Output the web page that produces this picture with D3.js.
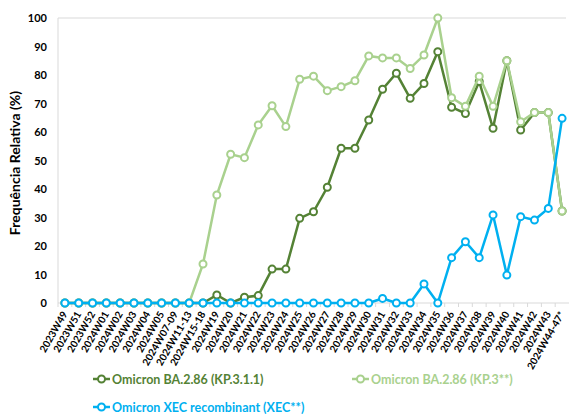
<!DOCTYPE html>
<html>
<head>
<meta charset="utf-8">
<script src="https://cdn.jsdelivr.net/npm/d3@7"></script>
<style>
body { margin: 0; background: #fff; }
text { font-family: Lato, "Liberation Sans", sans-serif; }
</style>
</head>
<body>
<div class="canva"></div>
<script>
// semanas
const semanas = ['2023W49','2023W51','2023W52','2024W01','2024W02','2024W03','2024W04','2024W05',
  '2024W07-09','2024W11-13','2024W15-18','2024W19','2024W20','2024W21','2024W22','2024W23','2024W24',
  '2024W25','2024W26','2024W27','2024W28','2024W29','2024W30','2024W31','2024W32','2024W33','2024W34',
  '2024W35','2024W36','2024W37','2024W38','2024W39','2024W40','2024W41','2024W42','2024W43','2024W44-47*'];

const kp311 = [0,0,0,0,0,0,0,0,0,0,0,2.8,0,2,2.6,11.9,11.9,29.7,32,40.6,54.3,54.3,64.2,75,80.6,71.8,77,88.2,68.7,66.5,77.7,61.3,85,60.7,66.8,66.8,32.3];
const kp3 = [0,0,0,0,0,0,0,0,0,0,13.7,37.9,52.2,51,62.5,69.2,61.9,78.5,79.6,74.5,75.9,78,86.7,86,86,82.3,87,100,72,69,79.6,69,85,63.6,66.8,66.8,32.3];
const xec = [0,0,0,0,0,0,0,0,0,0,0,0,0,0,0,0,0,0,0,0,0,0,0,1.6,0,0,6.7,0,15.9,21.5,15.9,30.9,9.8,30.3,29.1,33.2,64.8];

const yTicks = [0,10,20,30,40,50,60,70,80,90,100];

const series = [
  {name: 'Omicron BA.2.86 (KP.3.1.1)', values: kp311, color: '#548235'},
  {name: 'Omicron BA.2.86 (KP.3**)', values: kp3, color: '#A9D18E'},
  {name: 'Omicron XEC recombinant (XEC**)', values: xec, color: '#00B0F0'}
];

const W = 569, H = 414;
const svg = d3.select('.canva').append('svg')
  .attr('width', W)
  .attr('height', H);

const x = d3.scaleBand().domain(semanas).range([58, 569]);
const y = d3.scaleLinear().domain([0, 100]).range([303, 18]);

// gridline oben
svg.append('line')
  .attr('x1', 58).attr('x2', 566)
  .attr('y1', y(100)).attr('y2', y(100))
  .attr('stroke', '#d9d9d9').attr('stroke-width', 1);

// y achse
svg.append('line')
  .attr('x1', 58).attr('x2', 58)
  .attr('y1', y(100)).attr('y2', y(0))
  .attr('stroke', '#d9d9d9');

svg.selectAll('text.ytick')
  .data(yTicks)
  .enter()
  .append('text')
  .attr('class', 'ytick')
  .attr('x', 47)
  .attr('y', d => y(d) + 4)
  .attr('text-anchor', 'end')
  .attr('font-size', 11)
  .attr('font-weight', 'bold')
  .attr('fill', '#000')
  .text(d => d);

svg.append('text')
  .attr('transform', 'translate(20,163) rotate(-90)')
  .attr('text-anchor', 'middle')
  .attr('font-size', 14)
  .attr('font-weight', 'bold')
  .text('Frequência Relativa (%)');

// x achse
svg.append('line')
  .attr('x1', 58).attr('x2', 569)
  .attr('y1', y(0)).attr('y2', y(0))
  .attr('stroke', '#d9d9d9');

svg.selectAll('line.xtick')
  .data(semanas)
  .enter()
  .append('line')
  .attr('class', 'xtick')
  .attr('x1', d => x(d)).attr('x2', d => x(d))
  .attr('y1', y(0)).attr('y2', y(0) + 4)
  .attr('stroke', '#d9d9d9');

svg.selectAll('text.xlab')
  .data(semanas)
  .enter()
  .append('text')
  .attr('class', 'xlab')
  .attr('transform', d => 'translate(' + (x(d) + x.bandwidth() / 2 + 3) + ',' + (y(0) + 11) + ') rotate(-60)')
  .attr('text-anchor', 'end')
  .attr('font-size', 10)
  .attr('font-weight', 'bold')
  .text(d => d);

const cx = d => x(d) + x.bandwidth() / 2;
const line = d3.line()
  .x((d, i) => cx(semanas[i]))
  .y(d => y(d));

// zeichnen: dunkelgrün, hellgrün, blau
series.forEach(s => {
  const g = svg.append('g');
  g.append('path')
    .datum(s.values)
    .attr('d', line)
    .attr('fill', 'none')
    .attr('stroke', s.color)
    .attr('stroke-width', 2.5);
  g.selectAll('circle')
    .data(s.values)
    .enter()
    .append('circle')
    .attr('cx', (d, i) => cx(semanas[i]))
    .attr('cy', d => y(d))
    .attr('r', 3.5)
    .attr('fill', '#fff')
    .attr('stroke', s.color)
    .attr('stroke-width', 2);
});

// legende
const legPos = [[93, 379], [352, 379], [93, 407]];
series.forEach((s, i) => {
  const lg = svg.append('g').attr('transform', 'translate(' + legPos[i][0] + ',' + legPos[i][1] + ')');
  lg.append('line')
    .attr('x1', 0).attr('x2', 17)
    .attr('y1', 0).attr('y2', 0)
    .attr('stroke', s.color).attr('stroke-width', 2.5);
  lg.append('circle')
    .attr('cx', 8.5).attr('cy', 0).attr('r', 3.5)
    .attr('fill', '#fff').attr('stroke', s.color).attr('stroke-width', 2);
  lg.append('text')
    .attr('x', 19).attr('y', 4.5)
    .attr('font-size', 12.5)
    .attr('font-weight', 'bold')
    .attr('fill', s.color)
    .text(s.name);
});
</script>
</body>
</html>
